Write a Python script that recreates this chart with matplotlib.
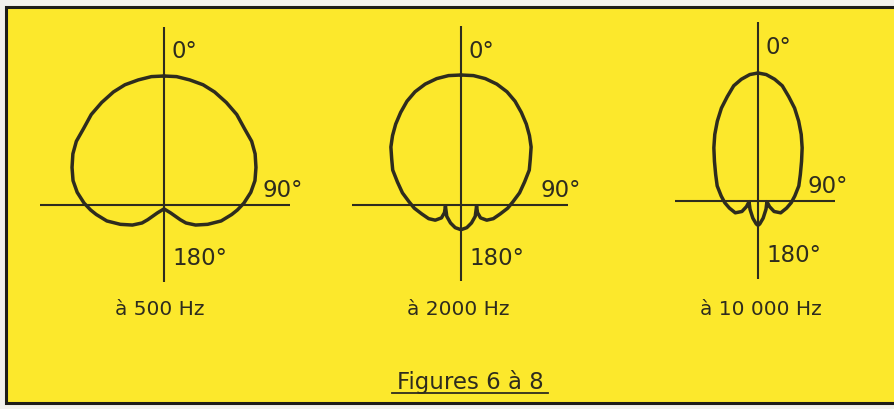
import numpy as np
import matplotlib
matplotlib.use("Agg")
import matplotlib.pyplot as plt
from matplotlib.patches import Rectangle

# Directivity patterns of a microphone, one half-contour each (0° = on axis,
# angles clockwise in degrees, level relative to the on-axis response).
# The other half is the mirror image.
angles_500 = [0, 5.6, 11.6, 18.0, 24.1, 31.3, 38.8, 46.5, 54.0, 60.7, 67.8, 75.0,
              81.7, 88.6, 93.9, 98.0, 105.6, 113.9, 122.4, 129.3, 132.1, 140.0, 180]
level_500 = [1.00, 1.00, 0.99, 0.98, 0.96, 0.93, 0.90, 0.86, 0.84, 0.81, 0.77,
             0.73, 0.68, 0.62, 0.57, 0.53, 0.46, 0.37, 0.29, 0.22, 0.17, 0.08, 0.03]

angles_2000 = [0, 5.5, 10.9, 16.5, 22.1, 27.5, 33.1, 38.9, 44.6, 50.4, 56.4, 62.9,
               70.1, 78.3, 86.5, 93.9, 102.7, 112.9, 120.5, 123.4, 114.8, 93.7,
               128.6, 149.7, 165.7, 180]
level_2000 = [1.00, 1.00, 0.99, 0.97, 0.94, 0.90, 0.85, 0.80, 0.75, 0.70, 0.64,
              0.59, 0.52, 0.46, 0.40, 0.36, 0.31, 0.27, 0.23, 0.18, 0.14, 0.12,
              0.14, 0.16, 0.18, 0.19]

angles_10000 = [0, 3.7, 7.8, 11.9, 16.4, 21.5, 27.0, 33.0, 39.7, 47.7, 58.0, 69.7,
                82.3, 92.9, 104.0, 117.5, 123.1, 116.0, 94.3, 136.1, 163.3, 175.7, 180]
level_10000 = [1.00, 0.99, 0.96, 0.92, 0.85, 0.78, 0.70, 0.62, 0.54, 0.46, 0.39,
               0.34, 0.29, 0.26, 0.23, 0.20, 0.15, 0.10, 0.07, 0.09, 0.14, 0.18, 0.19]

captions = ["à 500 Hz", "à 2000 Hz", "à 10 000 Hz"]
angle_labels = ["0°", "90°", "180°"]
title = "Figures 6 à 8"

# Page layout in pixels
W, H = 895, 410
YELLOW = "#fce82c"
INK = "#2e2c1e"

panels = [
    # centre, scale (px per unit), axis arm lengths (up, down, left, right)
    dict(c=(164, 206), s=129, arms=(178, 77, 124, 126), caption_x=160),
    dict(c=(461, 206), s=130, arms=(179, 76, 109, 107), caption_x=458),
    dict(c=(758, 202), s=128, arms=(179, 78, 83, 77), caption_x=761),
]
series = [(angles_500, level_500), (angles_2000, level_2000),
          (angles_10000, level_10000)]

fig = plt.figure(figsize=(W / 100, H / 100), dpi=100)
fig.patch.set_facecolor("#f2f1ec")
ax = fig.add_axes([0, 0, 1, 1])
ax.set_xlim(0, W)
ax.set_ylim(H, 0)
ax.axis("off")

# yellow card with a dark frame (runs off the right edge)
card = Rectangle((6, 8), W + 30, 396, facecolor=YELLOW, edgecolor="#1e1d18",
                 linewidth=2.2, zorder=0)
ax.add_patch(card)
card.set_clip_on(True)

label_font = dict(family=["DejaVu Sans"], fontsize=16.5, color=INK)

for p, (ang, lev), cap in zip(panels, series, captions):
    cx, cy = p["c"]
    up, down, left, right = p["arms"]
    # reference axes
    ax.plot([cx, cx], [cy - up, cy + down], color=INK, lw=1.5, zorder=2,
            solid_capstyle="butt")
    ax.plot([cx - left, cx + right], [cy, cy], color=INK, lw=1.5, zorder=2,
            solid_capstyle="butt")

    th = np.radians(np.asarray(ang, dtype=float))
    r = np.asarray(lev, dtype=float) * p["s"]
    xr = r * np.sin(th)
    yr = r * np.cos(th)
    # full contour: right half then mirrored left half
    x = np.concatenate([xr, -xr[::-1]])
    y = np.concatenate([yr, yr[::-1]])
    ax.plot(cx + x, cy - y, color=INK, lw=2.5, zorder=3,
            solid_joinstyle="round", solid_capstyle="round")

    ax.text(cx + 8, cy - 154, angle_labels[0], ha="left", va="center", **label_font)
    ax.text(cx + right - 27, cy - 15, angle_labels[1], ha="left", va="center",
            **label_font)
    ax.text(cx + 8, cy + 53, angle_labels[2], ha="left", va="center", **label_font)

    ax.text(p["caption_x"], 310, cap, ha="center", va="center",
            family=["DejaVu Sans"], fontsize=14.5, color=INK)

ax.text(470, 389, title, ha="center", va="baseline", family=["DejaVu Sans"],
        fontsize=16.5, color=INK)
ax.plot([392, 548], [394, 394], color=INK, lw=1.3)

fig.savefig("out.png", dpi=100, facecolor=fig.get_facecolor())
